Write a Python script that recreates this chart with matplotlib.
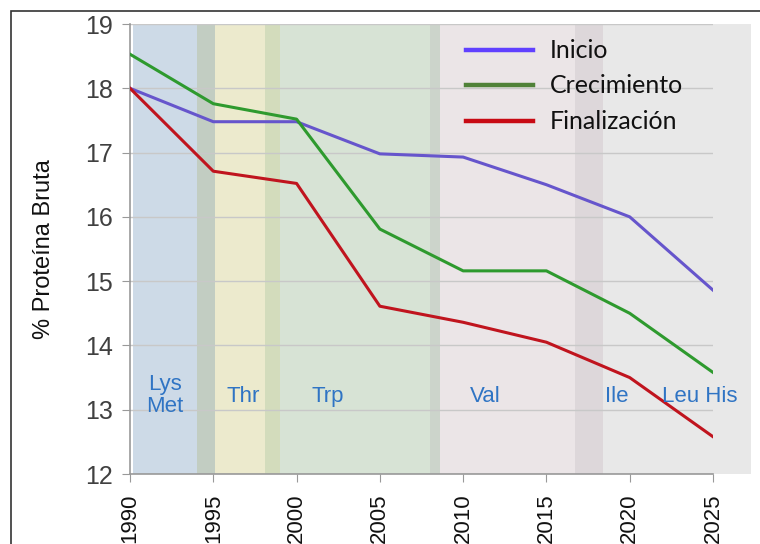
import matplotlib.pyplot as plt
from matplotlib.patches import Rectangle

# datos
anios = [1990, 1995, 2000, 2005, 2010, 2015, 2020, 2025]
inicio = [18.0, 17.48, 17.48, 16.98, 16.93, 16.5, 16.0, 14.86]
crecimiento = [18.53, 17.76, 17.52, 15.81, 15.16, 15.16, 14.5, 13.58]
finalizacion = [18.0, 16.71, 16.52, 14.61, 14.36, 14.05, 13.5, 12.58]

# periodos de los aminoacidos (franjas de fondo)
franja_ini = [1990.2, 1994.0, 1995.1, 1998.1, 1999.0, 2008.0, 2008.6, 2016.7, 2018.4]
franja_fin = [1994.0, 1995.1, 1998.1, 1999.0, 2008.0, 2008.6, 2016.7, 2018.4, 2027.3]
franja_col = ["#cddae7", "#c2cdc2", "#eceacd", "#d3dcbc", "#d7e3d5",
              "#ccd4cb", "#ebe5e7", "#ddd7da", "#e8e8e8"]

etiquetas = ["Lys\nMet", "Thr", "Trp", "Val", "Ile", "Leu His"]
etiq_x = [1992.1, 1996.8, 2001.9, 2011.3, 2019.2, 2024.2]
etiq_y = [13.22, 13.2, 13.2, 13.2, 13.2, 13.2]

plt.rcParams['font.family'] = ['Liberation Sans', 'DejaVu Sans']

fig = plt.figure(figsize=(7.6, 5.44), dpi=100)
ax = fig.add_axes([130/760, 1 - 474/544, 583/760, 450/544])

# marco de la imagen
fig.patches.append(Rectangle((11/760, -0.1), 1.2, 1 - 11/544 + 0.1,
                             transform=fig.transFigure, fill=False,
                             edgecolor="#333333", lw=1.2))

for a, b, c in zip(franja_ini, franja_fin, franja_col):
    ax.add_patch(Rectangle((a, 12), b - a, 7, facecolor=c, edgecolor="none",
                           zorder=0, clip_on=False))

ax.plot(anios, inicio, color="#6655cc", lw=2.2, zorder=3)
ax.plot(anios, crecimiento, color="#2e9a2e", lw=2.2, zorder=3)
ax.plot(anios, finalizacion, color="#c0141e", lw=2.2, zorder=3)

for t, x, y in zip(etiquetas, etiq_x, etiq_y):
    ax.text(x, y, t, ha="center", va="center", color="#2f74c4", fontsize=16,
            linespacing=1.1, zorder=4)

ax.set_xlim(1990, 2025)
ax.set_ylim(12, 19)
ax.set_xticks(anios)
ax.set_xticklabels([str(a) for a in anios], rotation=90, fontsize=16, color="#111111")
ax.set_yticks(range(12, 20))
ax.tick_params(axis="y", labelsize=18, labelcolor="#404040", length=6, color="#999999", pad=6)
ax.tick_params(axis="x", length=6, color="#999999", pad=8)
ax.grid(axis="y", color="#c8c8c8", lw=1)
ax.set_axisbelow(True)
for s in ["top", "right"]:
    ax.spines[s].set_visible(False)
for s in ["left", "bottom"]:
    ax.spines[s].set_color("#999999")
    ax.spines[s].set_linewidth(1.2)

ax.set_ylabel("% Proteína Bruta", fontsize=17, color="#111111", labelpad=22)

# leyenda
lx0, lx1, tx = 2010.2, 2014.2, 2015.2
for nombre, col, yv in [("Inicio", "#6040ff", 18.59), ("Crecimiento", "#508238", 18.05),
                        ("Finalización", "#c80a14", 17.49)]:
    ax.plot([lx0, lx1], [yv, yv], color=col, lw=3.2, zorder=5, clip_on=False)
    ax.text(tx, yv, nombre, va="center", ha="left", fontsize=18,
            family=['Lato', 'DejaVu Sans'], color="#111111", zorder=5)

fig.savefig("out.png", dpi=100)
